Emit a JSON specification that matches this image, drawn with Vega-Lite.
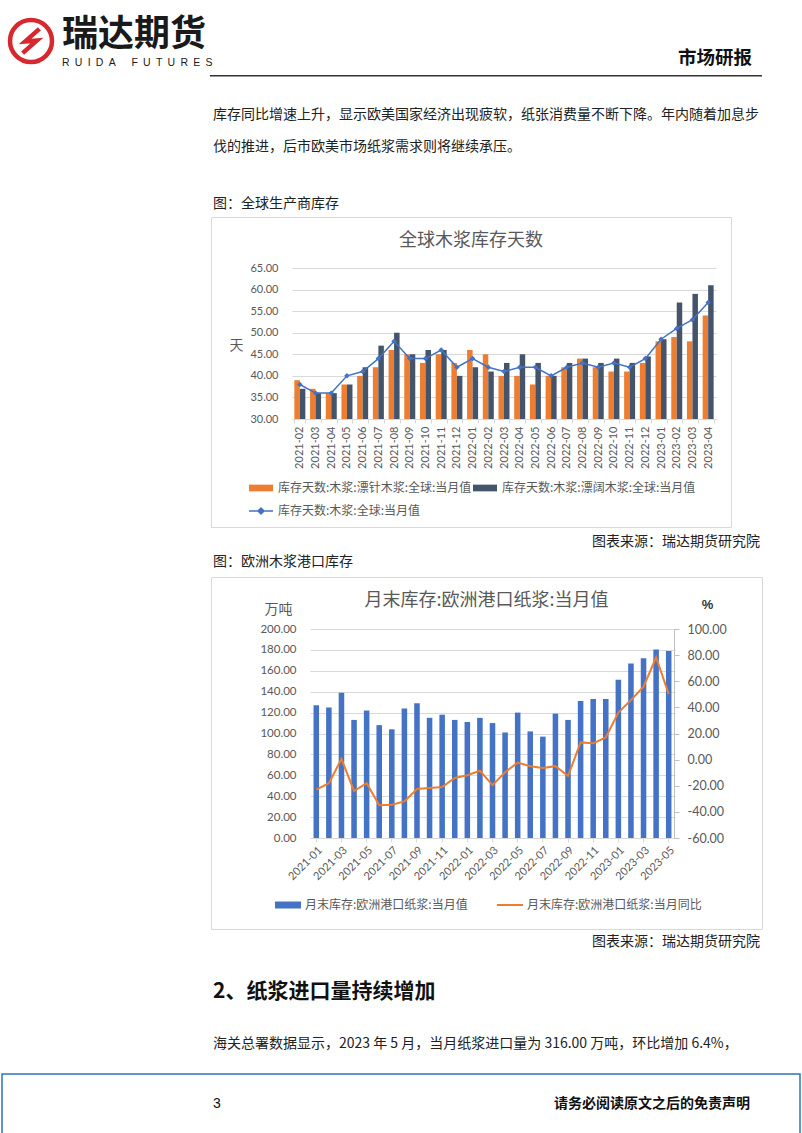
{
  "$schema": "https://vega.github.io/schema/vega-lite/v6.json",
  "background": "#ffffff",
  "padding": 0,
  "spacing": 0,
  "resolve": {"scale": {"color": "independent"}, "legend": {"color": "independent"}},
  "config": {
    "view": {"stroke": null},
    "font": "Noto Sans CJK SC"
  },
  "datasets": {
    "blank": [{"k": 1}],
    "stock": [
      {"month": "2021-02", "soft": 39, "hard": 37, "total": 38},
      {"month": "2021-03", "soft": 37, "hard": 36, "total": 36},
      {"month": "2021-04", "soft": 36, "hard": 36, "total": 36},
      {"month": "2021-05", "soft": 38, "hard": 38, "total": 40},
      {"month": "2021-06", "soft": 40, "hard": 42, "total": 41},
      {"month": "2021-07", "soft": 42, "hard": 47, "total": 44},
      {"month": "2021-08", "soft": 46, "hard": 50, "total": 48},
      {"month": "2021-09", "soft": 45, "hard": 45, "total": 44},
      {"month": "2021-10", "soft": 43, "hard": 46, "total": 44},
      {"month": "2021-11", "soft": 45, "hard": 46, "total": 46},
      {"month": "2021-12", "soft": 43, "hard": 40, "total": 42},
      {"month": "2022-01", "soft": 46, "hard": 42, "total": 44},
      {"month": "2022-02", "soft": 45, "hard": 41, "total": 42},
      {"month": "2022-03", "soft": 40, "hard": 43, "total": 41},
      {"month": "2022-04", "soft": 40, "hard": 45, "total": 42},
      {"month": "2022-05", "soft": 38, "hard": 43, "total": 42},
      {"month": "2022-06", "soft": 40, "hard": 40, "total": 40},
      {"month": "2022-07", "soft": 42, "hard": 43, "total": 42},
      {"month": "2022-08", "soft": 44, "hard": 44, "total": 43},
      {"month": "2022-09", "soft": 42, "hard": 43, "total": 42},
      {"month": "2022-10", "soft": 41, "hard": 44, "total": 43},
      {"month": "2022-11", "soft": 41, "hard": 43, "total": 42},
      {"month": "2022-12", "soft": 43, "hard": 44.5, "total": 44},
      {"month": "2023-01", "soft": 48, "hard": 48.5, "total": 48.5},
      {"month": "2023-02", "soft": 49, "hard": 57, "total": 51},
      {"month": "2023-03", "soft": 48, "hard": 59, "total": 53},
      {"month": "2023-04", "soft": 54, "hard": 61, "total": 57}
    ],
    "port": [
      {"month": "2021-01", "stock": 127, "yoy": -23},
      {"month": "2021-02", "stock": 125, "yoy": -18},
      {"month": "2021-03", "stock": 139, "yoy": 0.5},
      {"month": "2021-04", "stock": 113, "yoy": -24},
      {"month": "2021-05", "stock": 122, "yoy": -18},
      {"month": "2021-06", "stock": 108, "yoy": -35},
      {"month": "2021-07", "stock": 104, "yoy": -34.5},
      {"month": "2021-08", "stock": 124, "yoy": -32},
      {"month": "2021-09", "stock": 129, "yoy": -22.5},
      {"month": "2021-10", "stock": 115, "yoy": -21.7},
      {"month": "2021-11", "stock": 118, "yoy": -21},
      {"month": "2021-12", "stock": 113, "yoy": -14},
      {"month": "2022-01", "stock": 111, "yoy": -12},
      {"month": "2022-02", "stock": 115, "yoy": -8.5},
      {"month": "2022-03", "stock": 110, "yoy": -19.5},
      {"month": "2022-04", "stock": 101, "yoy": -9.7},
      {"month": "2022-05", "stock": 120, "yoy": -2.3},
      {"month": "2022-06", "stock": 102, "yoy": -5},
      {"month": "2022-07", "stock": 97, "yoy": -6.4},
      {"month": "2022-08", "stock": 119, "yoy": -5},
      {"month": "2022-09", "stock": 113, "yoy": -12.5},
      {"month": "2022-10", "stock": 131, "yoy": 13.2},
      {"month": "2022-11", "stock": 133, "yoy": 12.5},
      {"month": "2022-12", "stock": 133, "yoy": 17},
      {"month": "2023-01", "stock": 151.5, "yoy": 36},
      {"month": "2023-02", "stock": 167, "yoy": 45.6},
      {"month": "2023-03", "stock": 172, "yoy": 55.9},
      {"month": "2023-04", "stock": 180.5, "yoy": 78.3},
      {"month": "2023-05", "stock": 179, "yoy": 50.2}
    ]
  },
  "vconcat": [
    {
      "spacing": 0, "bounds": "flush",
      "hconcat": [
        {
          "width": 62, "height": 75, "data": {"name": "blank"},
          "layer": [
            {"mark": {"type": "point", "shape": "circle", "size": 1764, "filled": false, "color": "#D7282F", "strokeWidth": 4.5, "opacity": 1, "yOffset": 3.5}, "encoding": {}},
            {"mark": {"type": "point", "shape": "M0.4,-0.58L-0.28,0.02L0.28,-0.02L-0.4,0.58", "size": 1764, "filled": false, "color": "#D7282F", "strokeWidth": 4.5, "opacity": 1, "yOffset": 3.5}, "encoding": {}}
          ]
        },
        {
          "width": 149, "height": 75, "data": {"name": "blank"},
          "mark": {"type": "point", "size": 0, "opacity": 0, "strokeWidth": 0}, "encoding": {},
          "title": {"text": "瑞达期货", "subtitle": "R\u2002U\u2002I\u2002D\u2002A\u2002\u2002\u2002F\u2002U\u2002T\u2002U\u2002R\u2002E\u2002S", "frame": "group", "anchor": "start", "offset": 0, "dx": 0, "dy": 69.2, "font": "Noto Sans CJK SC", "fontSize": 36, "fontWeight": "bold", "color": "#1a1a1a", "subtitleFont": "Liberation Sans", "subtitleFontSize": 10.5, "subtitleColor": "#1a1a1a", "subtitlePadding": 4.1}
        },
        {
          "width": 551, "height": 75, "data": {"name": "blank"},
          "mark": {"type": "point", "size": 0, "opacity": 0, "strokeWidth": 0}, "encoding": {},
          "title": {"text": "市场研报", "frame": "group", "anchor": "end", "offset": 0, "dx": -10, "dy": 67.9, "font": "Noto Sans CJK SC", "fontSize": 18.5, "fontWeight": "bold", "color": "#111111"}
        }
      ]
    },
    {
      "spacing": 0, "bounds": "flush",
      "hconcat": [
        {"width": 210, "height": 1.5, "data": {"name": "blank"}, "mark": {"type": "point", "size": 0, "opacity": 0, "strokeWidth": 0}, "encoding": {}},
        {"width": 552, "height": 1.5, "view": {"fill": "#333333", "stroke": null}, "data": {"name": "blank"}, "mark": {"type": "point", "size": 0, "opacity": 0, "strokeWidth": 0}, "encoding": {}}
      ]
    },
    {
      "spacing": 0, "bounds": "flush",
      "hconcat": [
        {"width": 211, "height": 138.5, "data": {"name": "blank"}, "mark": {"type": "point", "size": 0, "opacity": 0, "strokeWidth": 0}, "encoding": {}},
        {
          "width": 551, "height": 138.5, "data": {"name": "blank"},
          "mark": {"type": "point", "size": 0, "opacity": 0, "strokeWidth": 0}, "encoding": {},
          "title": {"text": ["库存同比增速上升，显示欧美国家经济出现疲软，纸张消费量不断下降。年内随着加息步", "伐的推进，后市欧美市场纸浆需求则将继续承压。"], "subtitle": "图：全球生产商库存", "frame": "group", "anchor": "start", "offset": 0, "dx": 2, "dy": 133.7, "lineHeight": 32, "font": "Noto Sans CJK SC", "fontSize": 14, "fontWeight": "normal", "color": "#222222", "subtitleFont": "Noto Sans CJK SC", "subtitleFontSize": 14, "subtitleColor": "#222222", "subtitlePadding": 43}
        }
      ]
    },
    {
      "spacing": 0, "bounds": "flush",
      "resolve": {"scale": {"color": "independent"}, "legend": {"color": "independent"}},
      "hconcat": [
        {"width": 211, "height": 310, "data": {"name": "blank"}, "mark": {"type": "point", "size": 0, "opacity": 0, "strokeWidth": 0}, "encoding": {}},
        {
          "width": 520, "height": 310,
          "view": {"stroke": "#d9d9d9", "fill": "#ffffff"},
          "title": {"text": "全球木浆库存天数", "frame": "group", "anchor": "middle", "offset": 0, "dy": 32.6, "font": "Noto Sans CJK SC", "fontSize": 18, "fontWeight": "normal", "color": "#595959"},
          "data": {"name": "stock"},
          "transform": [{"fold": ["soft", "hard", "total"], "as": ["series", "value"]}],
          "encoding": {
            "x": {
              "field": "month", "type": "ordinal",
              "scale": {"range": [81, 505], "paddingInner": 0.3, "paddingOuter": 0.15},
              "axis": {"labelAngle": -90, "labelFont": "Lato", "labelFontSize": 11, "labelColor": "#595959", "domainColor": "#d9d9d9", "tickColor": "#d9d9d9", "tickSize": 4, "tickBand": "extent", "labelPadding": 3, "offset": -108, "title": null, "labelOverlap": false, "grid": false}
            },
            "y": {
              "field": "value", "type": "quantitative",
              "scale": {"domain": [30, 65], "range": [202, 51], "nice": false, "zero": false},
              "axis": {"values": [30, 35, 40, 45, 50, 55, 60, 65], "format": ".2f", "domain": false, "ticks": false, "labelPadding": 14, "offset": -81, "grid": true, "gridColor": "#d9d9d9", "labelFont": "Lato", "labelFontSize": 11, "labelColor": "#595959", "title": "天", "titleAngle": 0, "titleX": -56, "titleY": 128, "titleAlign": "center", "titleBaseline": "middle", "titleFont": "Noto Sans CJK SC", "titleFontSize": 14, "titleFontWeight": "normal", "titleColor": "#595959", "labelOverlap": false}
            },
            "color": {
              "field": "series", "type": "nominal",
              "scale": {"domain": ["soft", "hard", "total"], "range": ["#ED7D31", "#44546A", "#4472C4"]},
              "legend": {
                "orient": "none", "legendX": 44, "legendY": 265, "direction": "horizontal", "columns": 2, "columnPadding": 1, "rowPadding": 11, "symbolSize": 576, "symbolStrokeWidth": 0, "labelOffset": 11, "labelFontSize": 12, "labelFont": "Noto Sans CJK SC", "labelColor": "#595959", "labelLimit": 400, "title": null, "padding": 0,
                "labelExpr": "datum.value == 'soft' ? '库存天数:木浆:漂针木浆:全球:当月值' : datum.value == 'hard' ? '库存天数:木浆:漂阔木浆:全球:当月值' : '库存天数:木浆:全球:当月值'",
                "encode": {"symbols": {"update": {
                  "shape": {"signal": "datum.value == 'total' ? 'M-1,0L1,0M0,-0.25L0.25,0L0,0.25L-0.25,0Z' : 'M-1,-0.28L1,-0.28L1,0.28L-1,0.28Z'"},
                  "size": {"value": 576},
                  "fill": {"scale": "color", "field": "value"},
                  "stroke": {"scale": "color", "field": "value"},
                  "strokeWidth": {"signal": "datum.value == 'total' ? 1.5 : 0"},
                  "opacity": {"value": 1}
                }}}
              }
            }
          },
          "layer": [
            {
              "transform": [{"filter": "datum.series != 'total'"}],
              "mark": {"type": "bar"},
              "encoding": {
                "xOffset": {"field": "series", "sort": ["soft", "hard"]},
                "y2": {"datum": 30}
              }
            },
            {
              "transform": [{"filter": "datum.series == 'total'"}],
              "mark": {"type": "line", "strokeWidth": 1.5, "point": {"shape": "diamond", "size": 30, "filled": true}},
              "encoding": {}
            }
          ]
        }
      ]
    },
    {
      "spacing": 0, "bounds": "flush",
      "hconcat": [
        {"width": 211, "height": 48, "data": {"name": "blank"}, "mark": {"type": "point", "size": 0, "opacity": 0, "strokeWidth": 0}, "encoding": {}},
        {
          "width": 349, "height": 48, "data": {"name": "blank"},
          "mark": {"type": "point", "size": 0, "opacity": 0, "strokeWidth": 0}, "encoding": {},
          "title": {"text": "图：欧洲木浆港口库存", "frame": "group", "anchor": "start", "offset": 0, "dx": 2, "dy": 41.2, "font": "Noto Sans CJK SC", "fontSize": 14, "fontWeight": "normal", "color": "#222222"}
        },
        {
          "width": 202, "height": 48, "data": {"name": "blank"},
          "mark": {"type": "point", "size": 0, "opacity": 0, "strokeWidth": 0}, "encoding": {},
          "title": {"text": "图表来源：瑞达期货研究院", "frame": "group", "anchor": "end", "offset": 0, "dx": -2, "dy": 21.2, "font": "Noto Sans CJK SC", "fontSize": 14, "fontWeight": "normal", "color": "#222222"}
        }
      ]
    },
    {
      "spacing": 0, "bounds": "flush",
      "resolve": {"scale": {"color": "independent"}, "legend": {"color": "independent"}},
      "hconcat": [
        {"width": 211, "height": 352, "data": {"name": "blank"}, "mark": {"type": "point", "size": 0, "opacity": 0, "strokeWidth": 0}, "encoding": {}},
        {
          "width": 551, "height": 352,
          "view": {"stroke": "#d9d9d9", "fill": "#ffffff"},
          "title": {"text": "月末库存:欧洲港口纸浆:当月值", "frame": "group", "anchor": "middle", "offset": 0, "dy": 32.6, "font": "Noto Sans CJK SC", "fontSize": 18, "fontWeight": "normal", "color": "#595959"},
          "data": {"name": "port"},
          "encoding": {
            "x": {
              "field": "month", "type": "ordinal",
              "scale": {"range": [99, 464], "paddingInner": 0.56, "paddingOuter": 0.28},
              "axis": {"values": ["2021-01", "2021-03", "2021-05", "2021-07", "2021-09", "2021-11", "2022-01", "2022-03", "2022-05", "2022-07", "2022-09", "2022-11", "2023-01", "2023-03", "2023-05"], "labelAngle": -45, "labelFont": "Lato", "labelFontSize": 11, "labelColor": "#595959", "domainColor": "#d9d9d9", "tickColor": "#d9d9d9", "tickSize": 4, "labelPadding": 2, "offset": -91, "title": null, "labelOverlap": false, "grid": false}
            }
          },
          "layer": [
            {
              "mark": {"type": "bar"},
              "encoding": {
                "y": {
                  "field": "stock", "type": "quantitative",
                  "scale": {"domain": [0, 200], "range": [261, 52], "nice": false},
                  "axis": {"values": [0, 20, 40, 60, 80, 100, 120, 140, 160, 180, 200], "format": ".2f", "domain": false, "ticks": false, "labelPadding": 14, "offset": -99, "grid": true, "gridColor": "#d9d9d9", "labelFont": "Lato", "labelFontSize": 11.5, "labelColor": "#595959", "title": "万吨", "titleAngle": 0, "titleX": -32, "titleY": 32, "titleAlign": "center", "titleBaseline": "middle", "titleFont": "Noto Sans CJK SC", "titleFontSize": 14, "titleFontWeight": "normal", "titleColor": "#595959", "labelOverlap": false}
                },
                "color": {
                  "datum": "当月值",
                  "scale": {"domain": ["当月值", "当月同比"], "range": ["#4472C4", "#ED7D31"]},
                  "legend": {
                    "orient": "none", "legendX": 71, "legendY": 322, "direction": "horizontal", "columns": 2, "columnPadding": 25, "rowPadding": 0, "symbolSize": 676, "symbolStrokeWidth": 0, "labelOffset": 11, "labelFontSize": 12, "labelFont": "Noto Sans CJK SC", "labelColor": "#595959", "labelLimit": 400, "title": null, "padding": 0,
                    "labelExpr": "'月末库存:欧洲港口纸浆:' + datum.value",
                    "encode": {"symbols": {"update": {
                      "shape": {"signal": "datum.value == '当月同比' ? 'M-1,0L1,0' : 'M-1,-0.27L1,-0.27L1,0.27L-1,0.27Z'"},
                      "size": {"value": 676},
                      "fill": {"scale": "color", "field": "value"},
                      "stroke": {"scale": "color", "field": "value"},
                      "strokeWidth": {"signal": "datum.value == '当月同比' ? 2 : 0"},
                      "opacity": {"value": 1}
                    }}}
                  }
                }
              }
            },
            {
              "mark": {"type": "line", "strokeWidth": 2},
              "encoding": {
                "y": {
                  "field": "yoy", "type": "quantitative",
                  "scale": {"domain": [-60, 100], "range": [261, 52], "nice": false, "zero": false},
                  "axis": {"orient": "right", "values": [-60, -40, -20, 0, 20, 40, 60, 80, 100], "labelExpr": "(datum.value < 0 ? '-' : '') + format(abs(datum.value), '.2f')", "domain": true, "domainColor": "#bfbfbf", "ticks": true, "tickColor": "#bfbfbf", "tickSize": 5, "labelPadding": 8, "offset": -88, "grid": false, "labelFont": "Lato", "labelFontSize": 12.5, "labelColor": "#595959", "title": "%", "titleAngle": 0, "titleX": 33, "titleY": 27, "titleAlign": "center", "titleBaseline": "middle", "titleFont": "Liberation Sans", "titleFontSize": 13, "titleFontWeight": "bold", "titleColor": "#333333", "labelOverlap": false}
                },
                "color": {"datum": "当月同比"}
              }
            }
          ],
          "resolve": {"scale": {"y": "independent"}}
        }
      ]
    },
    {
      "spacing": 0, "bounds": "flush",
      "hconcat": [
        {"width": 211, "height": 143, "data": {"name": "blank"}, "mark": {"type": "point", "size": 0, "opacity": 0, "strokeWidth": 0}, "encoding": {}},
        {
          "width": 349, "height": 143, "data": {"name": "blank"},
          "mark": {"type": "point", "size": 0, "opacity": 0, "strokeWidth": 0}, "encoding": {},
          "title": {"text": "2、纸浆进口量持续增加", "subtitle": "\u3000\u3000海关总署数据显示，2023 年 5 月，当月纸浆进口量为 316.00 万吨，环比增加 6.4%，", "frame": "group", "anchor": "start", "offset": 0, "dx": 2, "dy": 121.2, "font": "Noto Sans CJK SC", "fontSize": 21, "fontWeight": "bold", "color": "#111111", "subtitleFont": "Noto Sans CJK SC", "subtitleFontSize": 14, "subtitleFontWeight": "normal", "subtitleColor": "#222222", "subtitlePadding": 34.8}
        },
        {
          "width": 202, "height": 143, "data": {"name": "blank"},
          "mark": {"type": "point", "size": 0, "opacity": 0, "strokeWidth": 0}, "encoding": {},
          "title": {"text": "图表来源：瑞达期货研究院", "frame": "group", "anchor": "end", "offset": 0, "dx": -2, "dy": 19.2, "font": "Noto Sans CJK SC", "fontSize": 14, "fontWeight": "normal", "color": "#222222"}
        }
      ]
    },
    {
      "spacing": 0, "bounds": "flush",
      "hconcat": [
        {"width": 2, "height": 65, "data": {"name": "blank"}, "mark": {"type": "point", "size": 0, "opacity": 0, "strokeWidth": 0}, "encoding": {}},
        {
          "width": 798, "height": 65, "view": {"stroke": "#2E75B6", "strokeWidth": 1.5, "fill": null},
          "data": {"name": "blank"},
          "mark": {"type": "point", "size": 0, "opacity": 0, "strokeWidth": 0}, "encoding": {},
          "title": {"text": "请务必阅读原文之后的免责声明", "frame": "group", "anchor": "end", "offset": 0, "dx": -50, "dy": 37.2, "font": "Noto Sans CJK SC", "fontSize": 14, "fontWeight": "bold", "color": "#111111"}
        },
        {
          "width": 1, "height": 65, "data": {"name": "blank"},
          "mark": {"type": "point", "size": 0, "opacity": 0, "strokeWidth": 0}, "encoding": {},
          "title": {"text": "3", "frame": "group", "anchor": "start", "offset": 0, "dx": -587, "dy": 36.9, "font": "Liberation Sans", "fontSize": 14, "fontWeight": "normal", "color": "#111111"}
        }
      ]
    }
  ]
}
